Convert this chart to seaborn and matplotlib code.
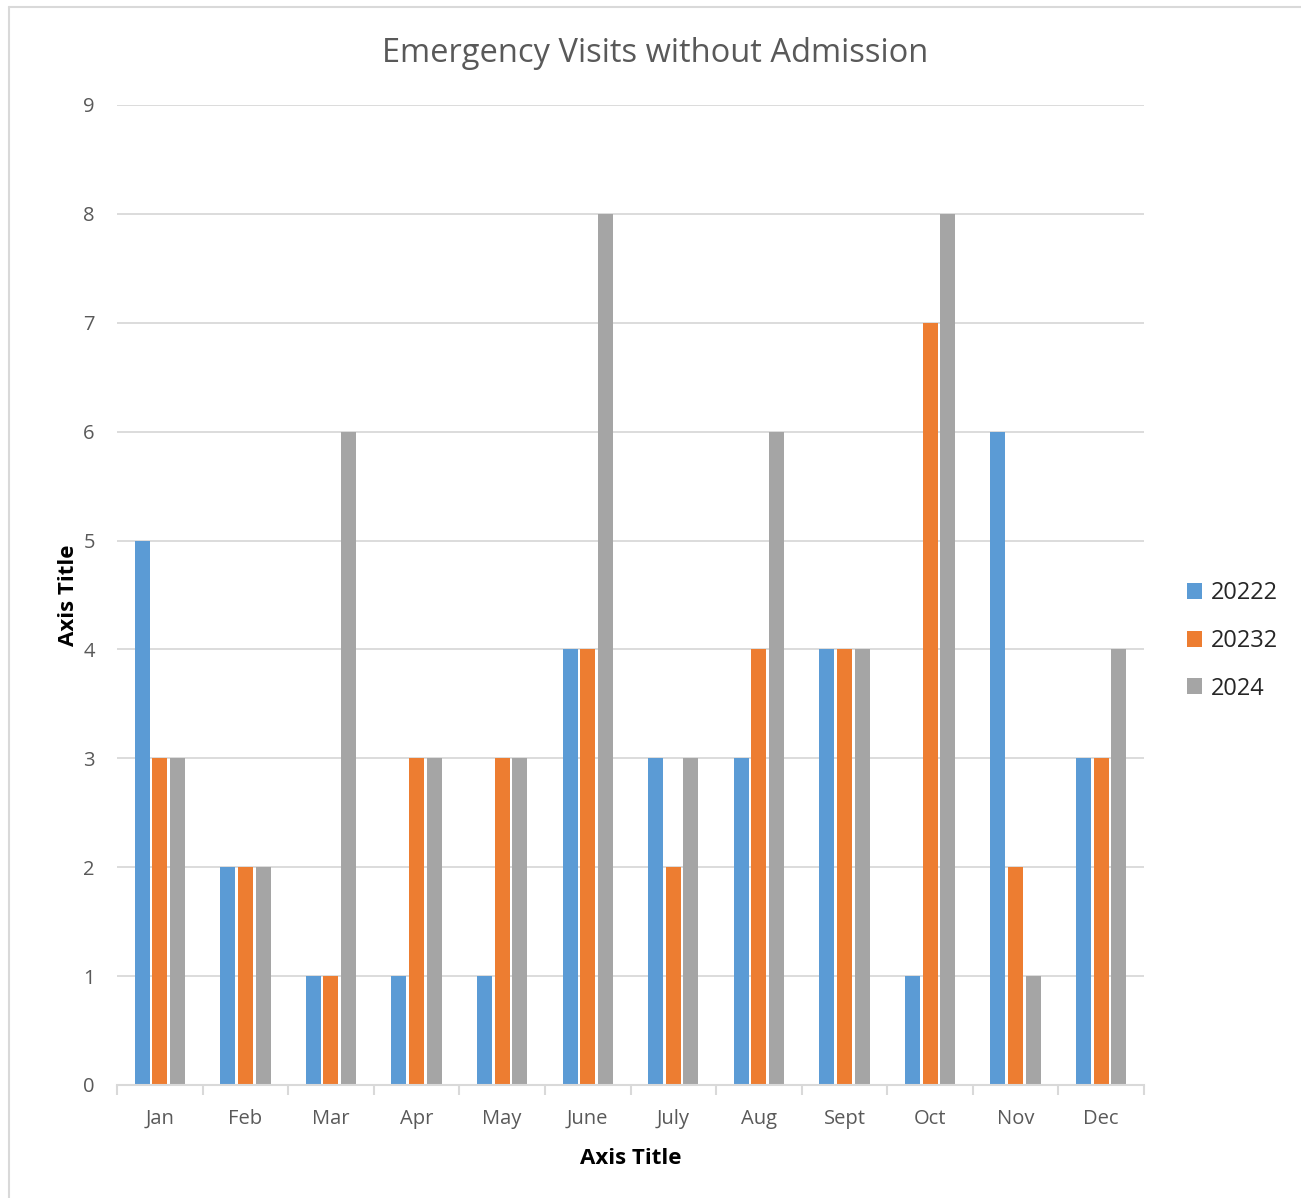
import matplotlib
matplotlib.use("Agg")
import matplotlib.pyplot as plt
import seaborn as sns
import pandas as pd
from matplotlib.lines import Line2D
from matplotlib.patches import Patch

months = ["Jan", "Feb", "Mar", "Apr", "May", "June", "July", "Aug", "Sept", "Oct", "Nov", "Dec"]
series_names = ["20222", "20232", "2024"]
visits_20222 = [5, 2, 1, 1, 1, 4, 3, 3, 4, 1, 6, 3]
visits_20232 = [3, 2, 1, 3, 3, 4, 2, 4, 4, 7, 2, 3]
visits_2024 = [3, 2, 6, 3, 3, 8, 3, 6, 4, 8, 1, 4]
colors = ["#5B9BD5", "#ED7D31", "#A5A5A5"]

df = pd.DataFrame({
    "Month": months * 3,
    "Year": [series_names[0]] * 12 + [series_names[1]] * 12 + [series_names[2]] * 12,
    "Visits": visits_20222 + visits_20232 + visits_2024,
})

sns.set_theme(style="white")
plt.rcParams["font.family"] = ["Open Sans", "DejaVu Sans"]

W, H = 1301, 1198
fig = plt.figure(figsize=(W / 100, H / 100), dpi=100)
ax = fig.add_axes([117 / W, 1 - 1085 / H, (1144 - 117) / W, (1085 - 105) / H])

sns.barplot(data=df, x="Month", y="Visits", hue="Year", order=months,
            hue_order=series_names, palette=colors, width=0.62, gap=0.15,
            saturation=1, errorbar=None, ax=ax, legend=False, zorder=3,
            edgecolor="none", linewidth=0)

grid_c = "#D9D9D9"
ax.set_ylim(0, 9)
ax.set_yticks(range(0, 10))
ax.set_xlim(-0.5, 11.5)
ax.yaxis.grid(True, color=grid_c, linewidth=1.3, zorder=0)
ax.set_axisbelow(True)
for s in ["top", "right", "left"]:
    ax.spines[s].set_visible(False)
ax.spines["bottom"].set_color(grid_c)
ax.spines["bottom"].set_linewidth(1.5)
ax.spines["bottom"].set_zorder(4)

ax.tick_params(axis="y", length=0, pad=16, labelsize=14.5, labelcolor="#595959")
ax.tick_params(axis="x", which="major", length=0, pad=17, labelsize=14.5, labelcolor="#595959")
ax.set_xticks([i - 0.5 for i in range(13)], minor=True)
ax.tick_params(axis="x", which="minor", length=7, width=1.5, color=grid_c, bottom=True)

ax.set_xlabel("Axis Title", fontsize=16, fontweight="bold", color="black", labelpad=14)
ax.set_ylabel("Axis Title", fontsize=16, fontweight="bold", color="black", labelpad=3)

fig.text(655 / W, 1 - 54 / H, "Emergency Visits without Admission", ha="center", va="center",
         fontsize=23.5, color="#595959")

handles = [Patch(facecolor=c, edgecolor="none") for c in colors]
fig.legend(handles, series_names, loc="center left", bbox_to_anchor=(1175 / W, 1 - 641 / H),
           frameon=False, fontsize=17, handlelength=0.65, handleheight=0.65,
           handletextpad=0.35, labelspacing=1.0, borderpad=0)

# chart frame edges
fig.add_artist(Line2D([8.5 / W, 8.5 / W], [0, 1 - 6.5 / H], color="#D9D9D9", linewidth=1.5))
fig.add_artist(Line2D([8.5 / W, 1], [1 - 6.5 / H, 1 - 6.5 / H], color="#D9D9D9", linewidth=1.5))

fig.savefig("out.png", dpi=100)
